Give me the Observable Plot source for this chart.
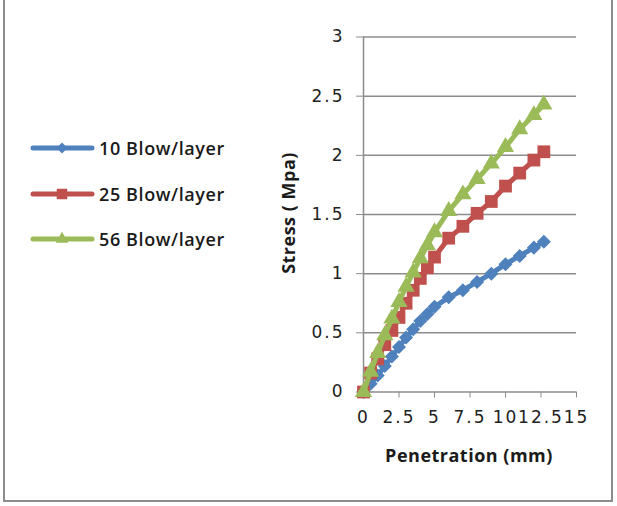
<!DOCTYPE html>
<html>
<head>
<meta charset="utf-8">
<script src="https://cdn.jsdelivr.net/npm/d3@7"></script>
<script src="https://cdn.jsdelivr.net/npm/@observablehq/plot@0.6"></script>
<style>
html, body { margin: 0; padding: 0; background: #fff; }
#wrap { position: relative; width: 617px; height: 506px; overflow: hidden; }
#frame { position: absolute; left: 3px; top: -2px; width: 606px; height: 500px; border: 2px solid #8c8c8c; box-sizing: content-box; }
#chart { position: absolute; left: 0; top: 0; }
#chart svg g[aria-label$="tick label"] text { letter-spacing: 2px; }
.ytitle { position: absolute; left: 288px; top: 213px; transform: translate(-50%, -50%) rotate(-90deg); font: 700 18px "Open Sans", sans-serif; letter-spacing: 0.5px; color: #1a1a1a; white-space: nowrap; }
.xtitle { position: absolute; left: 469px; top: 455px; transform: translate(-50%, -50%); font: 700 18px "Open Sans", sans-serif; letter-spacing: 0.5px; color: #1a1a1a; white-space: nowrap; }
.leg { position: absolute; left: 30px; height: 24px; display: flex; align-items: center; font: 600 18px "Open Sans", sans-serif; letter-spacing: 0.6px; color: #1a1a1a; white-space: nowrap; }
.leg svg { margin-right: 3px; }
</style>
</head>
<body>
<div id="wrap">
  <div id="frame"></div>
  <div id="chart"></div>
  <div class="ytitle">Stress ( Mpa)</div>
  <div class="xtitle">Penetration (mm)</div>
  <div id="legend"></div>
</div>
<script>
// ---- data ----
const penetration = [0, 0.5, 1, 1.5, 2, 2.5, 3, 3.5, 4, 4.5, 5, 6, 7, 8, 9, 10, 11, 12, 12.7];
const blow10 = [0, 0.07, 0.14, 0.22, 0.30, 0.38, 0.46, 0.53, 0.60, 0.66, 0.72, 0.80, 0.86, 0.93, 1.00, 1.08, 1.15, 1.22, 1.27];
const blow25 = [0, 0.16, 0.28, 0.40, 0.52, 0.63, 0.75, 0.86, 0.96, 1.05, 1.14, 1.30, 1.40, 1.51, 1.61, 1.74, 1.85, 1.96, 2.03];
const blow56 = [0, 0.17, 0.33, 0.48, 0.62, 0.76, 0.89, 1.01, 1.13, 1.24, 1.35, 1.53, 1.67, 1.80, 1.93, 2.07, 2.22, 2.34, 2.43];
const seriesNames = ["10 Blow/layer", "25 Blow/layer", "56 Blow/layer"];
const seriesColors = ["#4F81BD", "#C0504D", "#9BBB59"];
const xTicks = [0, 2.5, 5, 7.5, 10, 12.5, 15];
const yTicks = [0, 0.5, 1, 1.5, 2, 2.5, 3];

const seriesValues = [blow10, blow25, blow56];
const tables = seriesValues.map((vals, i) => penetration.map((x, j) => ({x, y: vals[j], s: seriesNames[i]})));

const diamond = { draw(ctx, size) { const r = Math.sqrt(size / 2); ctx.moveTo(0, -r); ctx.lineTo(r, 0); ctx.lineTo(0, r); ctx.lineTo(-r, 0); ctx.closePath(); } };
const symbols = [diamond, "square", "triangle"];
const radii = [5.6, 7.2, 6.4];

const grid = "#8c8c8c";
const marks = [
  Plot.gridY(yTicks, {stroke: grid, strokeOpacity: 1, strokeWidth: 1.5}),
  Plot.ruleX([0], {stroke: grid, strokeWidth: 1.5}),
  Plot.axisY(yTicks, {tickSize: 7, tickPadding: 12, stroke: grid, fill: "#222", tickFormat: d => String(d), label: null}),
  Plot.axisX(xTicks, {tickSize: 6, tickPadding: 13, stroke: grid, fill: "#222", tickFormat: d => String(d), label: null})
];
tables.forEach((t, i) => {
  marks.push(Plot.line(t, {x: "x", y: "y", stroke: seriesColors[i], strokeWidth: 5}));
  marks.push(Plot.dot(t, {x: "x", y: "y", fill: seriesColors[i], stroke: "none", symbol: symbols[i], r: radii[i]}));
});

const chart = Plot.plot({
  width: 617,
  height: 506,
  marginLeft: 363,
  marginRight: 41,
  marginTop: 36.5,
  marginBottom: 114.5,
  x: {domain: [0, 15], label: null},
  y: {domain: [0, 3], label: null},
  style: {background: "transparent", overflow: "visible", fontFamily: "DejaVu Sans", fontSize: "17px"},
  marks
});
document.getElementById("chart").appendChild(chart);

// legend
const legend = document.getElementById("legend");
const legY = [148, 194, 239];
seriesNames.forEach((name, i) => {
  const row = document.createElement("div");
  row.className = "leg";
  row.style.top = (legY[i] - 12) + "px";
  const svg = d3.create("svg").attr("width", 66).attr("height", 24);
  svg.append("line").attr("x1", 3).attr("x2", 62).attr("y1", 12).attr("y2", 12)
    .attr("stroke", seriesColors[i]).attr("stroke-width", 5).attr("stroke-linecap", "round");
  const sym = i === 0 ? diamond : (i === 1 ? d3.symbolSquare : d3.symbolTriangle);
  const size = i === 0 ? 60 : (i === 1 ? 110 : 70);
  svg.append("path").attr("d", d3.symbol(sym, size)()).attr("transform", "translate(32,12)").attr("fill", seriesColors[i]);
  row.appendChild(svg.node());
  const span = document.createElement("span");
  span.textContent = name;
  row.appendChild(span);
  legend.appendChild(row);
});
</script>
</body>
</html>
